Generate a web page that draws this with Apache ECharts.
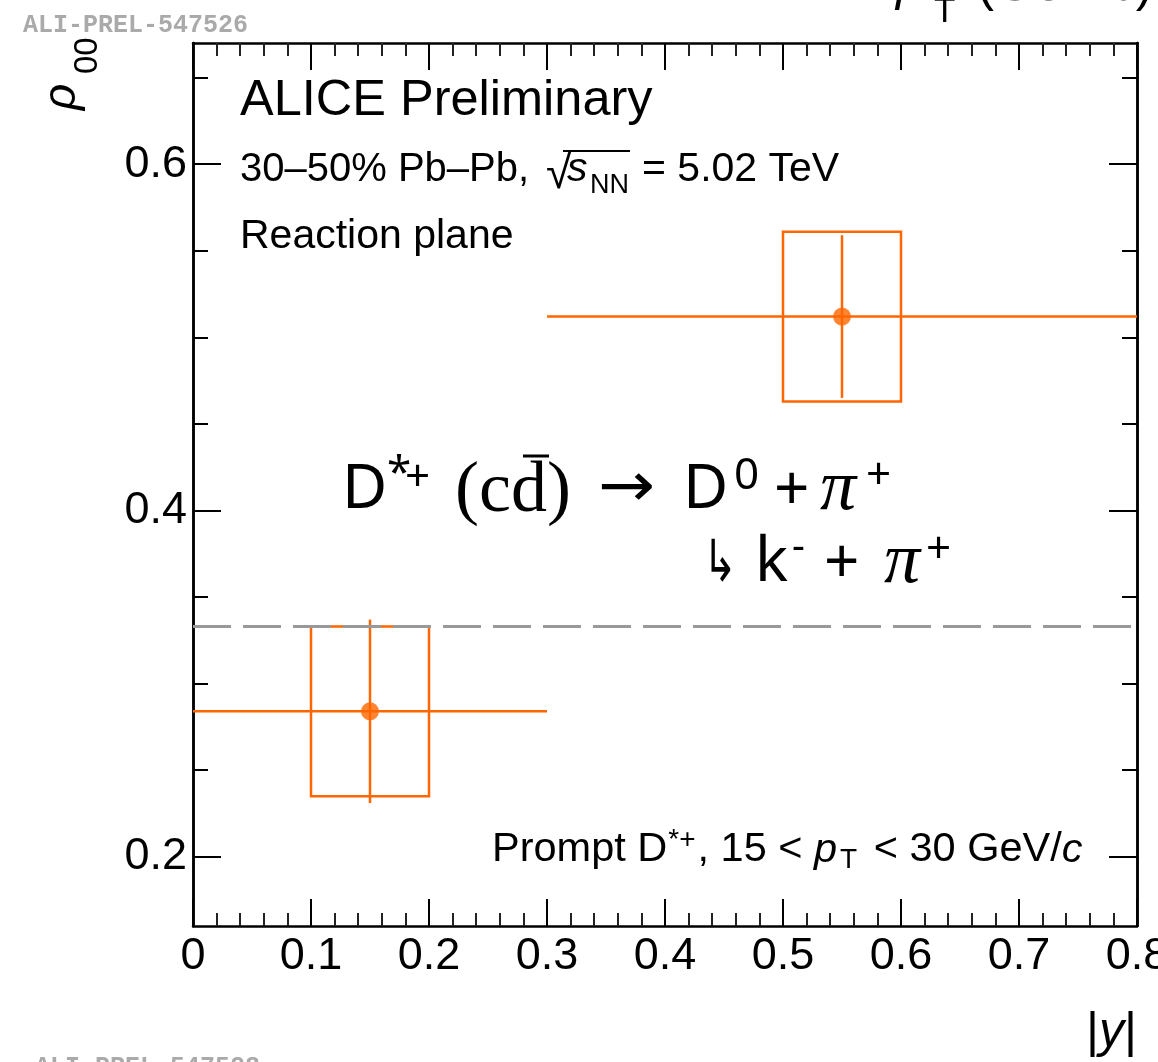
<!DOCTYPE html>
<html>
<head>
<meta charset="utf-8">
<script src="https://cdn.jsdelivr.net/npm/echarts@6/dist/echarts.min.js"></script>
<style>
  html, body { margin: 0; padding: 0; background: #fff; }
  #chart { width: 1158px; height: 1062px; }
</style>
</head>
<body>
<div id="chart"></div>
<script>
// rho00 of prompt D*+ vs |y|, 30-50% Pb-Pb
const binLo = [0.0, 0.3]
const binHi = [0.3, 0.8]
const yCenter = [0.15, 0.55]
const rho00 = [0.284, 0.512]
const statErr = [0.053, 0.047]
const sysErr = [0.049, 0.049]
const noAlignment = 1 / 3
const yMajorTicks = [0.2, 0.4, 0.6]
const yMinorTicks = [0.2, 0.25, 0.3, 0.35, 0.4, 0.45, 0.5, 0.55, 0.6, 0.65]

const SANS = 'Liberation Sans'
const ORANGE = '#ff6600'
const BOX_HALF = 0.05

const chart = echarts.init(document.getElementById('chart'))

const statData = yCenter.map((x, i) => [x, rho00[i], binLo[i], binHi[i], statErr[i]])
const sysData = yCenter.map((x, i) => [x, rho00[i], sysErr[i]])
const pointData = yCenter.map((x, i) => [x, rho00[i]])

function renderSys (params, api) {
  const p0 = api.coord([api.value(0) - BOX_HALF, api.value(1) + api.value(2)])
  const p1 = api.coord([api.value(0) + BOX_HALF, api.value(1) - api.value(2)])
  return {
    type: 'rect',
    shape: { x: p0[0], y: p0[1], width: p1[0] - p0[0], height: p1[1] - p0[1] },
    style: { fill: 'none', stroke: ORANGE, lineWidth: 2.5 }
  }
}

function renderStat (params, api) {
  const x = api.value(0)
  const y = api.value(1)
  const l = api.coord([api.value(2), y])
  const r = api.coord([api.value(3), y])
  const t = api.coord([x, y + api.value(4)])
  const b = api.coord([x, y - api.value(4)])
  const st = { stroke: ORANGE, lineWidth: 2.5 }
  return {
    type: 'group',
    children: [
      { type: 'line', shape: { x1: l[0], y1: l[1], x2: r[0], y2: r[1] }, style: st },
      { type: 'line', shape: { x1: t[0], y1: t[1], x2: b[0], y2: b[1] }, style: st }
    ]
  }
}

const xBase = {
  type: 'value',
  min: 0,
  max: 0.8,
  interval: 0.1,
  splitLine: { show: false },
  axisLine: { show: true, lineStyle: { color: '#000', width: 2.5 } },
  axisTick: { show: true, inside: true, length: 27, lineStyle: { color: '#000', width: 2 } },
  minorTick: { show: true, splitNumber: 5, length: 13, lineStyle: { color: '#222', width: 2 } },
  minorSplitLine: { show: false }
}

function yAx (pos, ticks, len, labels) {
  return {
    type: 'value',
    position: pos,
    min: 0.16,
    max: 0.67,
    splitLine: { show: false },
    axisLine: { show: true, lineStyle: { color: '#000', width: 2.5 } },
    axisTick: { show: true, inside: true, length: len, customValues: ticks, lineStyle: { color: '#000', width: 2 } },
    axisLabel: labels
      ? { show: true, customValues: yMajorTicks, fontSize: 45, fontFamily: SANS, color: '#000', margin: 6 }
      : { show: false }
  }
}

// little helper for the free-standing texts
function txt (x, y, text, size, extra, el) {
  return Object.assign({
    type: 'text',
    x: x,
    y: y,
    silent: true,
    style: Object.assign({
      text: text,
      fontSize: size,
      fontFamily: SANS,
      fill: '#000',
      align: 'left',
      verticalAlign: 'middle'
    }, extra || {})
  }, el || {})
}

const NOTO = { fontFamily: 'Noto Sans' }
const SERIF = { fontFamily: 'Liberation Serif' }
const PI = { fontFamily: 'Liberation Serif', fontStyle: 'italic' }
const ARR = { fontFamily: 'DejaVu Sans' }

const option = {
  animation: false,
  backgroundColor: '#fff',
  grid: { left: 193, right: 21, top: 43, bottom: 136, containLabel: false, outerBoundsMode: 'none' },
  xAxis: [
    Object.assign({}, xBase, {
      position: 'bottom',
      axisLabel: { show: true, fontSize: 45, fontFamily: SANS, color: '#000', margin: 8, showMinLabel: true, showMaxLabel: true }
    }),
    Object.assign({}, xBase, { position: 'top', axisLabel: { show: false } })
  ],
  yAxis: [
    yAx('left', yMajorTicks, 28, true),
    yAx('left', yMinorTicks, 15, false),
    yAx('right', yMajorTicks, 28, false),
    yAx('right', yMinorTicks, 15, false)
  ],
  series: [
    {
      type: 'custom',
      name: 'sys',
      renderItem: renderSys,
      data: sysData,
      encode: { x: 0, y: 1 },
      z: 3,
      markLine: {
        silent: true,
        symbol: 'none',
        precision: 6,
        label: { show: false },
        lineStyle: { color: '#999', width: 3, type: [38, 12] },
        data: [{ yAxis: noAlignment }]
      }
    },
    {
      type: 'custom',
      name: 'stat',
      renderItem: renderStat,
      data: statData,
      encode: { x: 0, y: 1 },
      z: 4
    },
    {
      type: 'scatter',
      name: 'rho00',
      data: pointData,
      symbol: 'circle',
      symbolSize: 18,
      itemStyle: { color: ORANGE },
      z: 5
    }
  ],
  graphic: [
    // watermarks
    txt(23, 26, 'ALI-PREL-547526', 25, { fontFamily: 'Liberation Mono', fontWeight: 'bold', fill: '#aaa' }),
    txt(35, 1068, 'ALI-PREL-547528', 25, { fontFamily: 'Liberation Mono', fontWeight: 'bold', fill: '#aaa' }),
    // axis title clipped from the neighbouring panel
    txt(896, -14, 'p', 50, { fontStyle: 'italic' }),
    txt(934, 12, 'T', 35),
    txt(977, -14, '(GeV/c)', 51),
    // y title
    txt(62, 110, 'ρ', 46, { fontStyle: 'italic' }, { rotation: Math.PI / 2 }),
    txt(88, 74, '00', 33, {}, { rotation: Math.PI / 2 }),
    // x title
    txt(1137, 1033, '|{i|y}|', 50, { align: 'right', rich: { i: { fontSize: 50, fontFamily: SANS, fontStyle: 'italic' } } }),
    // labels
    txt(240, 101, 'ALICE Preliminary', 50.5),
    txt(240, 170, '30–50% Pb–Pb,', 40),
    txt(546, 175, '√', 46),
    { type: 'line', silent: true, shape: { x1: 563, y1: 151, x2: 630, y2: 151 }, style: { stroke: '#000', lineWidth: 2 } },
    txt(567, 170, 's', 41, { fontStyle: 'italic' }),
    txt(590, 186, 'NN', 27),
    txt(642, 170, '= 5.02 TeV', 41),
    txt(240, 237, 'Reaction plane', 41),
    txt(492, 850, 'Prompt D{sup|*+}, 15 < {i|p}{sub|T} < 30 GeV/{i|c}', 41.5, {
      lineHeight: 48,
      rich: {
        sup: { fontSize: 28, fontFamily: SANS, verticalAlign: 'top', lineHeight: 14, padding: [0, 2, 0, 1] },
        i: { fontSize: 41.5, fontFamily: SANS, fontStyle: 'italic', lineHeight: 48 },
        sub: { fontSize: 28, fontFamily: SANS, verticalAlign: 'bottom', lineHeight: 14, padding: [0, 5, 0, 3] }
      }
    }),
    // decay chain, first line
    txt(342, 490, 'D', 62, NOTO),
    txt(387, 474, '*', 44, NOTO),
    txt(405, 478, '+', 44, NOTO),
    txt(455, 492, '(cd)', 72, SERIF),
    { type: 'line', silent: true, shape: { x1: 523, y1: 456, x2: 549, y2: 456 }, style: { stroke: '#000', lineWidth: 3 } },
    txt(598, 490, '→', 62, ARR, { scaleX: 1.1 }),
    txt(683, 490, 'D', 62, NOTO),
    txt(734, 476, '0', 44, NOTO),
    txt(774, 492, '+', 62, NOTO),
    txt(820, 490, 'π', 72, PI),
    txt(866, 476, '+', 44, NOTO),
    // second line
    txt(703, 566, '↳', 58, ARR, { scaleX: 0.7 }),
    txt(755, 563, 'k', 62, NOTO),
    txt(792, 548, '-', 40, NOTO),
    txt(824, 565, '+', 62, NOTO),
    txt(884, 563, 'π', 72, PI),
    txt(926, 550, '+', 44, NOTO)
  ]
}

chart.setOption(option)
</script>
</body>
</html>
